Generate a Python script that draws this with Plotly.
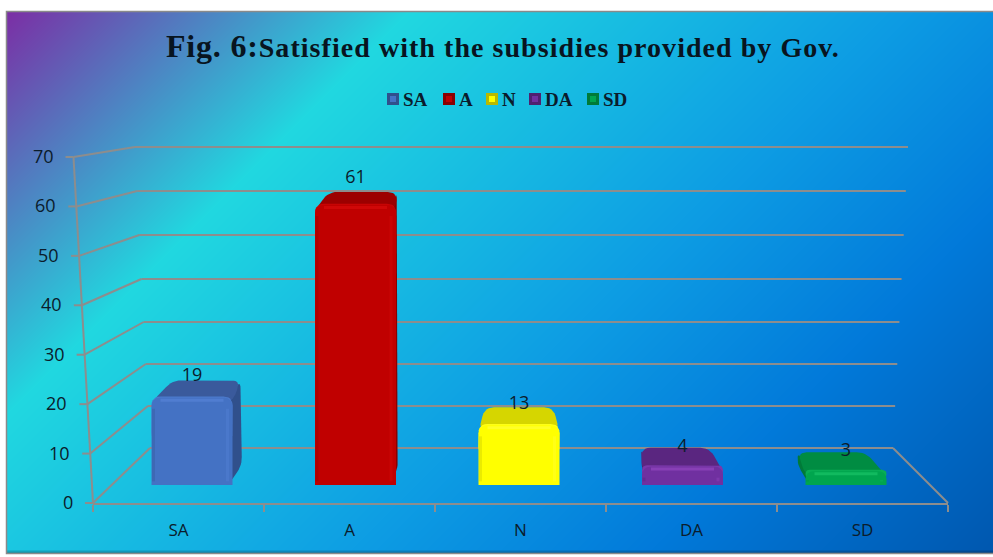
import base64
import struct
import zlib

import numpy as np
import plotly.graph_objects as go

W, H = 993, 557

# Chart data
categories = ["SA", "A", "N", "DA", "SD"]
values = [19, 61, 13, 4, 3]
y_ticks = [0, 10, 20, 30, 40, 50, 60, 70]
title_head = "Fig. 6:"
title_tail = "Satisfied with the subsidies provided by Gov."

# Face colours per series: front, top, side, rim, highlight
front_colors = ["#4472c4", "#c00000", "#ffff00", "#7030a0", "#00a54e"]
top_colors = ["#3a5a9c", "#9c0000", "#d6d600", "#5a2680", "#008c42"]
side_colors = ["#30508c", "#8a0000", "#b9b900", "#4f2170", "#007a38"]
rim_colors = ["#4b7acc", "#c80404", "#ffff18", "#7a38aa", "#08ad54"]
glow_colors = ["#5c88de", "#e01010", "#ffff50", "#a050cc", "#22d070"]

GRID = "#8d8d8d"
INK = "#0b1c2c"

# Diagonal wash stops: position along x+y, RGB
wash_pos = [17, 420, 900, 1200, 1540]
wash_rgb = [(124, 46, 165), (33, 216, 224), (14, 158, 228), (2, 122, 218), (0, 88, 176)]


def png_uri(rgb):
    """Encode an RGB array as a data URI without any imaging dependency."""
    h, w, _ = rgb.shape
    raw = b"".join(b"\x00" + rgb[r].tobytes() for r in range(h))

    def chunk(tag, body):
        crc = zlib.crc32(tag + body) & 0xFFFFFFFF
        return struct.pack(">I", len(body)) + tag + body + struct.pack(">I", crc)

    blob = (
        b"\x89PNG\r\n\x1a\n"
        + chunk(b"IHDR", struct.pack(">IIBBBBB", w, h, 8, 2, 0, 0, 0))
        + chunk(b"IDAT", zlib.compress(raw, 9))
        + chunk(b"IEND", b"")
    )
    return "data:image/png;base64," + base64.b64encode(blob).decode()


def backdrop():
    yy, xx = np.mgrid[0:H, 0:W]
    t = xx + yy
    img = np.stack(
        [np.interp(t, wash_pos, [c[k] for c in wash_rgb]) for k in range(3)], axis=-1
    )
    # darker lip along the lower edge, white page outside the panel
    lip = np.clip((yy - 549) / 4.0, 0, 1)[..., None]
    img = img * (1 - 0.35 * lip)
    img[:11, :] = 255
    img[:, :6] = 255
    img[554:, :] = 255
    return np.clip(img, 0, 255).astype(np.uint8)


# Front plane of the bars: category index -> pixel and value -> pixel
BAR_X0, BAR_DX = 192.0, 163.5
BAR_Y0, BAR_DY = 485.0, 4.59
HALF = 40.5 / BAR_DX
BACK_HALF = 34.0 / BAR_DX


def xn(px):
    return px / W


def yn(py):
    return 1 - py / H


def depth_lift(v):
    return 4.2 - 0.022 * v


def back_center(i):
    return 2 + (i - 2) * 0.956


def rounded(points, r_px):
    """Polygon through points in data units with softened corners."""
    pts = [np.array([p[0] * BAR_DX, p[1] * BAR_DY]) for p in points]
    out = []
    n = len(pts)
    for k in range(n):
        a, b, c = pts[k - 1], pts[k], pts[(k + 1) % n]
        u = (a - b) / max(np.linalg.norm(a - b), 1e-6)
        v = (c - b) / max(np.linalg.norm(c - b), 1e-6)
        r = min(r_px, np.linalg.norm(a - b) / 2, np.linalg.norm(c - b) / 2)
        for s in np.linspace(0, 1, 7):
            q = (1 - s) ** 2 * (b + u * r) + 2 * s * (1 - s) * b + s**2 * (b + v * r)
            out.append(q)
    out.append(out[0])
    return [p[0] / BAR_DX for p in out], [p[1] / BAR_DY for p in out]


fig = go.Figure()


def face(points, color, r_px=8):
    xs, ys = rounded(points, r_px)
    fig.add_trace(
        go.Scatter(
            x=xs, y=ys, mode="lines", fill="toself", fillcolor=color,
            line=dict(width=0, color=color), hoverinfo="skip", showlegend=False,
        )
    )


def stroke(xs, ys, color, width, opacity=1.0):
    # shading lines belong to the upper overlay, above the bars
    fig.add_trace(
        go.Scatter(
            x=xs, y=ys, xaxis="x3", yaxis="y3", mode="lines", opacity=opacity,
            line=dict(width=width, color=color), hoverinfo="skip", showlegend=False,
        )
    )


# Side and top faces sit behind the front of each bar
for i, v in enumerate(values):
    lift = depth_lift(v)
    bc = back_center(i)
    fl, fr = i - HALF, i + HALF
    bl, br = bc - BACK_HALF, bc + BACK_HALF
    base_lift = 20 / BAR_DY
    if br > fr:
        face([(fr - 4 / BAR_DX, 0), (fr - 4 / BAR_DX, v), (br, v + lift), (br + 1.5 / BAR_DX, base_lift)],
             side_colors[i])
    if bl < fl:
        face([(fl + 4 / BAR_DX, 0), (fl + 4 / BAR_DX, v), (bl, v + lift), (bl, base_lift)],
             side_colors[i])
    face([(fl, v - 1), (bl, v + lift), (br, v + lift), (fr, v - 1)], top_colors[i], 9)
    # soft rounded rim along the upper edge of the front face
    face([(fl, v * 0.5), (fl, v + 0.3), (fr, v + 0.3), (fr, v * 0.5)], rim_colors[i], 9)

# Front faces, on an overlay so they cover the depth faces
for i, v in enumerate(values):
    fig.add_trace(
        go.Bar(
            x=[i], y=[v], xaxis="x3", yaxis="y3", width=2 * HALF, name=categories[i],
            marker=dict(color=front_colors[i], line=dict(width=0), cornerradius=8),
            showlegend=False, hoverinfo="skip",
        )
    )

# Bevel shading along the edges of each front face
for i, v in enumerate(values):
    inset = 9 / BAR_DX
    rim = 2.4 / BAR_DY
    stroke([i - HALF + inset, i + HALF - inset], [v - rim, v - rim], glow_colors[i], 3, 0.5)
    edge = 5 / BAR_DX
    stroke(
        [i + HALF - edge, i + HALF - edge], [0.8, max(v - 2.4, 1.0)],
        glow_colors[i], 3, 0.28,
    )
    stroke(
        [i - HALF + 2 / BAR_DX, i - HALF + 2 / BAR_DX], [0.8, max(v - 2.4, 1.0)],
        side_colors[i], 3, 0.28,
    )

# Value labels above each bar
fig.add_trace(
    go.Scatter(
        x=list(range(len(values))),
        y=[v + 4.15 + 0.025 * v for v in values],
        xaxis="x3",
        yaxis="y3",
        mode="text",
        text=[str(v) for v in values],
        textposition="middle center",
        textfont=dict(family="Open Sans", size=18, color=INK),
        hoverinfo="skip",
        showlegend=False,
    )
)

# Category axis along the front edge of the floor
fig.add_trace(
    go.Scatter(
        x=categories, y=[0] * len(categories), xaxis="x2", yaxis="y2",
        mode="markers", marker=dict(opacity=0), hoverinfo="skip", showlegend=False,
    )
)

# Walls, floor and gridlines of the box
AX_FRONT_X, AX_FRONT_TOP_X = 93.0, 73.5
AX_BOTTOM, AX_TOP = 503.0, 157.0
BACK_LEFT_BOTTOM, BACK_LEFT_TOP = 150.0, 135.0
BACK_RIGHT_BOTTOM, BACK_RIGHT_TOP = 893.0, 908.0
back_rows = [448, 406, 364, 322, 279, 235, 191, 147]
FLOOR_RIGHT = 948.0


def grid_line(x0, y0, x1, y1, width=2):
    return dict(
        type="line", xref="paper", yref="paper", layer="below",
        x0=xn(x0), y0=yn(y0), x1=xn(x1), y1=yn(y1),
        line=dict(color=GRID, width=width),
    )


shapes = [
    dict(
        type="rect", xref="paper", yref="paper", layer="below",
        x0=xn(6.5), y0=yn(553.5), x1=1.2, y1=yn(11.5),
        line=dict(color="#8a8a8a", width=1.5), fillcolor="rgba(0,0,0,0)",
    )
]
annotations = []
for tick, row in zip(y_ticks, back_rows):
    f = tick / y_ticks[-1]
    fx = AX_FRONT_X + (AX_FRONT_TOP_X - AX_FRONT_X) * f
    fy = AX_BOTTOM + (AX_TOP - AX_BOTTOM) * f
    blx = BACK_LEFT_BOTTOM + (BACK_LEFT_TOP - BACK_LEFT_BOTTOM) * f
    brx = BACK_RIGHT_BOTTOM + (BACK_RIGHT_TOP - BACK_RIGHT_BOTTOM) * f
    shapes.append(grid_line(fx - 8, fy, fx, fy))
    shapes.append(grid_line(fx, fy, blx, row))
    shapes.append(grid_line(blx, row, brx, row))
    annotations.append(
        dict(
            xref="paper", yref="y2", x=xn(fx - 18), y=tick, yshift=1, text=str(tick),
            xanchor="right", yanchor="middle", showarrow=False,
            font=dict(family="Open Sans", size=18, color=INK),
        )
    )
shapes.append(grid_line(AX_FRONT_X, AX_BOTTOM, AX_FRONT_TOP_X, AX_TOP))
shapes.append(grid_line(FLOOR_RIGHT, AX_BOTTOM, BACK_RIGHT_BOTTOM, back_rows[0]))

# Compact key under the heading, one bevelled swatch per series
key_swatch_x = [387, 443, 486, 529, 587]
KEY_Y = 99
for i, name in enumerate(categories):
    sx = key_swatch_x[i]
    shapes.append(
        dict(
            type="rect", xref="paper", yref="paper", layer="above",
            x0=xn(sx), x1=xn(sx + 12), y0=yn(KEY_Y + 6), y1=yn(KEY_Y - 6),
            fillcolor=side_colors[i], line=dict(width=0),
        )
    )
    shapes.append(
        dict(
            type="rect", xref="paper", yref="paper", layer="above",
            x0=xn(sx + 3), x1=xn(sx + 9), y0=yn(KEY_Y + 3), y1=yn(KEY_Y - 3),
            fillcolor=front_colors[i], line=dict(width=0),
        )
    )
    annotations.append(
        dict(
            xref="paper", yref="paper", x=xn(sx + 14), y=yn(KEY_Y), text=f"<b>{name}</b>",
            xanchor="left", yanchor="middle", showarrow=False,
            font=dict(family="Liberation Serif", size=19, color=INK),
        )
    )

# Heading, real text with wide tracking
annotations.append(
    dict(
        xref="paper", yref="paper", x=xn(503), y=yn(46),
        xanchor="center", yanchor="middle", showarrow=False,
        text=(
            f'<b><span style="font-size:32px;letter-spacing:0.8px">{title_head}</span>'
            f'<span style="letter-spacing:1.05px">{title_tail}</span></b>'
        ),
        font=dict(family="Liberation Serif", size=28, color="#081420"),
    )
)

x_range = [-BAR_X0 / BAR_DX, (W - BAR_X0) / BAR_DX]
y_range = [-(H - BAR_Y0) / BAR_DY, BAR_Y0 / BAR_DY]

fig.update_layout(
    width=W,
    height=H,
    autosize=False,
    margin=dict(l=0, r=0, t=0, b=0),
    paper_bgcolor="rgba(0,0,0,0)",
    plot_bgcolor="rgba(0,0,0,0)",
    barmode="overlay",
    showlegend=False,
    shapes=shapes,
    annotations=annotations,
    images=[
        dict(
            source=png_uri(backdrop()), xref="paper", yref="paper",
            x=0, y=1, sizex=1, sizey=1, sizing="stretch", layer="below",
            xanchor="left", yanchor="top",
        )
    ],
    xaxis=dict(domain=[0, 1], range=x_range, visible=False, fixedrange=True),
    yaxis=dict(domain=[0, 1], range=y_range, visible=False, fixedrange=True),
    xaxis3=dict(domain=[0, 1], range=x_range, visible=False, fixedrange=True, overlaying="x", anchor="y3"),
    yaxis3=dict(domain=[0, 1], range=y_range, visible=False, fixedrange=True, overlaying="y", anchor="x3"),
    xaxis2=dict(
        domain=[xn(AX_FRONT_X), xn(FLOOR_RIGHT)],
        anchor="y2",
        type="category",
        categoryorder="array",
        categoryarray=categories,
        range=[-0.5, len(categories) - 0.5],
        tickson="boundaries",
        ticks="outside",
        ticklen=7,
        tickwidth=1.5,
        tickcolor=GRID,
        showline=True,
        linecolor=GRID,
        linewidth=2,
        showgrid=False,
        zeroline=False,
        ticklabelstandoff=11,
        tickfont=dict(family="Open Sans", size=17, color=INK),
        fixedrange=True,
    ),
    yaxis2=dict(
        domain=[yn(AX_BOTTOM), yn(AX_TOP)],
        anchor="x2",
        range=[y_ticks[0], y_ticks[-1]],
        visible=False,
        fixedrange=True,
    ),
)

fig.write_html("out.html", config=dict(displayModeBar=False))
